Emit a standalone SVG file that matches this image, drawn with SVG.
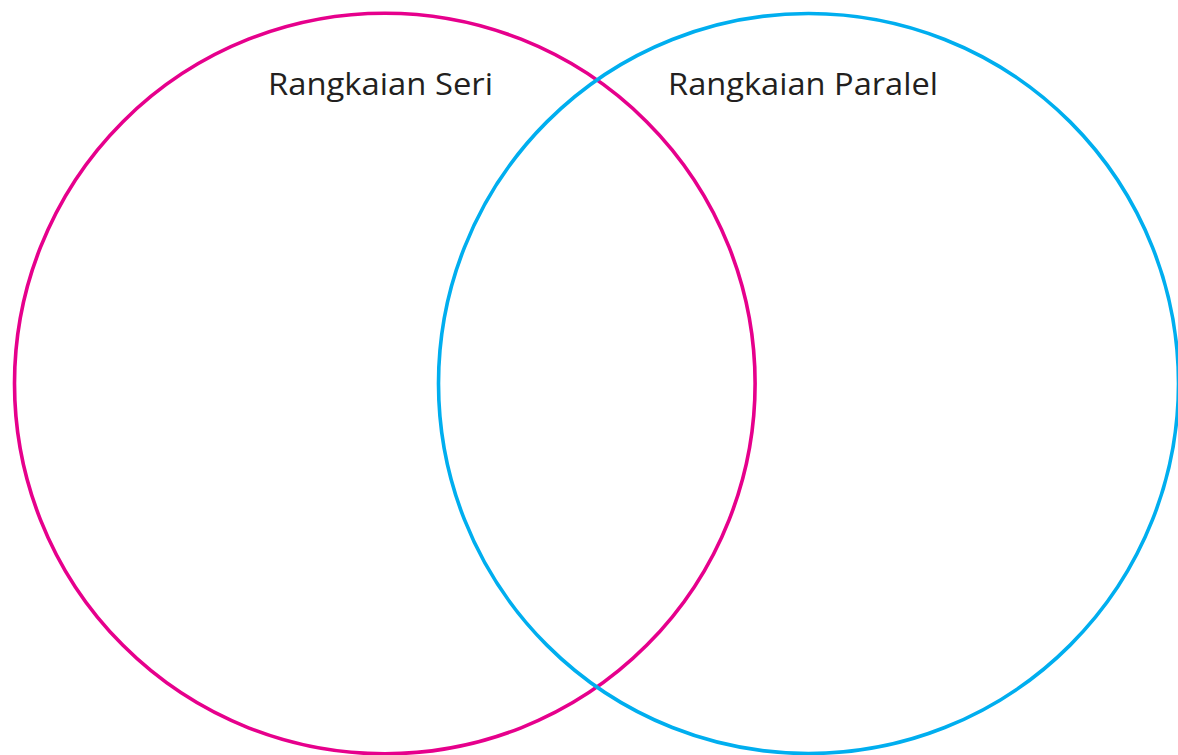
<svg xmlns="http://www.w3.org/2000/svg" width="1178" height="755" viewBox="0 0 1178 755">
<style>
.c{fill:none;stroke-width:3.6}
.t{font-family:"Open Sans","Liberation Sans",sans-serif;font-size:31px;fill:#231f20}
</style>
<rect width="1178" height="755" fill="#fff"/>
<g id="seri">
<circle class="c" cx="384.8" cy="383.5" r="370.3" stroke="#E6008C"/>
<text class="t" x="268" y="94.5" textLength="225" lengthAdjust="spacingAndGlyphs">Rangkaian Seri</text>
</g>
<g id="paralel">
<circle class="c" cx="808.5" cy="383.5" r="370" stroke="#00AEEF"/>
<text class="t" x="668" y="94.5" textLength="270" lengthAdjust="spacingAndGlyphs">Rangkaian Paralel</text>
</g>
<g id="connectors"/>
</svg>
